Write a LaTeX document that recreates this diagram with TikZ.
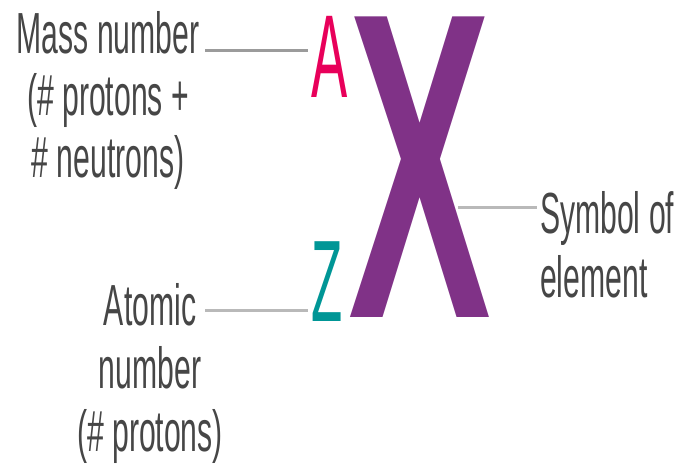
\documentclass[tikz,border=0pt]{standalone}
\usepackage{fontspec}
\setmainfont{Liberation Sans}
\definecolor{txtgray}{RGB}{70,70,70}
\definecolor{massred}{RGB}{232,0,90}
\definecolor{atomteal}{RGB}{0,150,150}
\definecolor{elempurple}{RGB}{128,50,135}
\definecolor{linegray}{RGB}{155,155,155}
\definecolor{linelight}{RGB}{185,185,185}
\tikzset{
  lbl/.style={font=\fontsize{58}{62}\selectfont, text=txtgray, inner sep=0pt, xscale=0.52, transform shape},
  ltr/.style={inner sep=0pt, transform shape, text depth=0pt},
  conn/.style={line width=3pt}
}
\begin{document}
\begin{tikzpicture}[x=1pt,y=-1pt,line cap=butt]
				\useasboundingbox (0,0) rectangle (678,464);
				% letters
				\node[ltr, font=\fontsize{118}{118}\selectfont, text=massred, xscale=0.46, text height=84pt, anchor=base] (A) at (330,97) {A};
				\node[ltr, font=\fontsize{116}{116}\selectfont, text=atomteal, xscale=0.44, text height=81pt, anchor=base] (Z) at (327.5,321) {Z};
				\node[ltr, font=\fontsize{437}{437}\selectfont\bfseries, text=elempurple, xscale=0.49, text height=303pt, anchor=base] (X) at (419.5,317) {X};
				% labels (base = last line)
				\node[lbl, align=center, anchor=base] (mass) at (108,177) {Mass number\\(\# protons +\\\# neutrons)};
				\node[lbl, align=center, anchor=base, font=\fontsize{58}{63}\selectfont] (atomic) at (150,451) {Atomic\\number\\(\# protons)};
				\node[lbl, align=left, anchor=base west, font=\fontsize{58}{64}\selectfont] (symbol) at (540,297) {Symbol of\\element};
				% connectors
				\coordinate (m1) at (205,50);
				\coordinate (m2) at (308,50);
				\coordinate (a1) at (205,310);
				\coordinate (a2) at (308,310);
				\coordinate (s1) at (458,207);
				\coordinate (s2) at (537,207);
				\foreach \p/\q/\c in {m1/m2/linegray,a1/a2/linelight,s1/s2/linelight}{\draw[conn,draw=\c](\p)--(\q);}
			\end{tikzpicture}
\end{document}
